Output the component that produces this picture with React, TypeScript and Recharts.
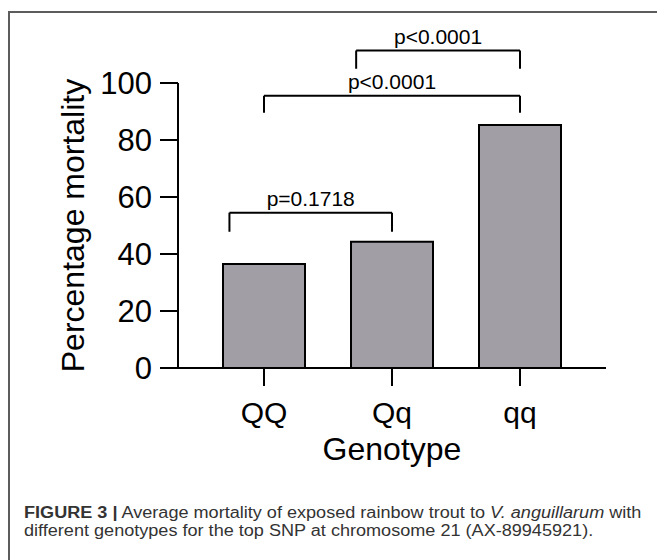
import React from "react";
import { BarChart, Bar, XAxis, YAxis, ReferenceLine } from "recharts";

const genotypes = ["QQ", "Qq", "qq"];
const mortality = [36.5, 44.3, 85.3];
const yTicks = [0, 20, 40, 60, 80, 100];

// significance brackets, x in category-index units, y in % mortality
const bracketLabels = ["p=0.1718", "p<0.0001", "p<0.0001"];
const bracketFrom = [-0.27, 0, 0.72];
const bracketTo = [1, 2, 2];
const bracketTop = [54.5, 95.5, 111.4];
const bracketFoot = [47.8, 89.6, 105];

const FONT = "'Liberation Sans', Arial, Helvetica, sans-serif";
const INK = "#000";

const data = genotypes.map((g, i) => ({ genotype: g, value: mortality[i], pos: i }));

export default function App() {
  const lineProps = {
    xAxisId: "br",
    stroke: INK,
    strokeWidth: 2,
    ifOverflow: "visible" as const,
  };

  return (
    <div style={{ position: "relative", width: 657, height: 560, background: "#fff" }}>
      <style>{`body{margin:0;overflow:hidden;}`}</style>
      <div
        style={{
          position: "absolute",
          left: 8,
          top: 11,
          width: 700,
          height: 600,
          borderTop: "2px solid #5c5c5c",
          borderLeft: "2px solid #5c5c5c",
          boxSizing: "border-box",
        }}
      />
      <div style={{ position: "absolute", left: 0, top: 0 }}>
        <BarChart
          width={657}
          height={480}
          data={data}
          margin={{ top: 83, right: 51, bottom: 0, left: 0 }}
        >
          <XAxis
            dataKey="genotype"
            height={112}
            padding={{ left: 22, right: 22 }}
            tickSize={18}
            tickMargin={16}
            axisLine={{ stroke: INK, strokeWidth: 2 }}
            tickLine={{ stroke: INK, strokeWidth: 2 }}
            tick={{ fill: INK, fontSize: 30, fontFamily: FONT }}
            label={{
              value: "Genotype",
              position: "insideBottom",
              offset: 20,
              fill: INK,
              fontSize: 32,
              fontFamily: FONT,
            }}
          />
          {/* index axis for the brackets: 0..2 lands on the bar centres */}
          <XAxis
            xAxisId="br"
            dataKey="pos"
            type="number"
            domain={[0, 2]}
            padding={{ left: 86, right: 86 }}
            allowDataOverflow
            hide
          />
          <YAxis
            width={178}
            domain={[0, 100]}
            ticks={yTicks}
            interval={0}
            tickSize={18}
            tickMargin={8}
            axisLine={{ stroke: INK, strokeWidth: 2 }}
            tickLine={{ stroke: INK, strokeWidth: 2 }}
            tick={{ fill: INK, fontSize: 31, fontFamily: FONT }}
            label={{
              value: "Percentage mortality",
              angle: -90,
              position: "insideLeft",
              offset: 73,
              textAnchor: "middle",
              fill: INK,
              fontSize: 32,
              fontFamily: FONT,
            }}
          />
          <Bar
            dataKey="value"
            fill="#a19fa5"
            stroke={INK}
            strokeWidth={2}
            barSize={82}
            isAnimationActive={false}
          />
          {bracketLabels.map((lab, i) => (
            <ReferenceLine
              key={`h${i}`}
              {...lineProps}
              segment={[
                { x: bracketFrom[i], y: bracketTop[i] },
                { x: bracketTo[i], y: bracketTop[i] },
              ]}
              label={{
                value: lab,
                position: "top",
                offset: 7,
                fill: INK,
                fontSize: 21,
                fontFamily: FONT,
              }}
            />
          ))}
          {bracketLabels.map((_, i) => (
            <ReferenceLine
              key={`l${i}`}
              {...lineProps}
              segment={[
                { x: bracketFrom[i], y: bracketTop[i] },
                { x: bracketFrom[i], y: bracketFoot[i] },
              ]}
            />
          ))}
          {bracketLabels.map((_, i) => (
            <ReferenceLine
              key={`r${i}`}
              {...lineProps}
              segment={[
                { x: bracketTo[i], y: bracketTop[i] },
                { x: bracketTo[i], y: bracketFoot[i] },
              ]}
            />
          ))}
        </BarChart>
      </div>
      <div
        style={{
          position: "absolute",
          left: 24,
          top: 504,
          fontFamily: FONT,
          fontSize: 16,
          lineHeight: "18px",
          color: "#333",
          whiteSpace: "nowrap",
          transform: "scaleX(1.13)",
          transformOrigin: "left top",
        }}
      >
        <b>FIGURE 3 |</b> Average mortality of exposed rainbow trout to <i>V. anguillarum</i> with
        <br />
        different genotypes for the top SNP at chromosome 21 (AX-89945921).
      </div>
    </div>
  );
}
